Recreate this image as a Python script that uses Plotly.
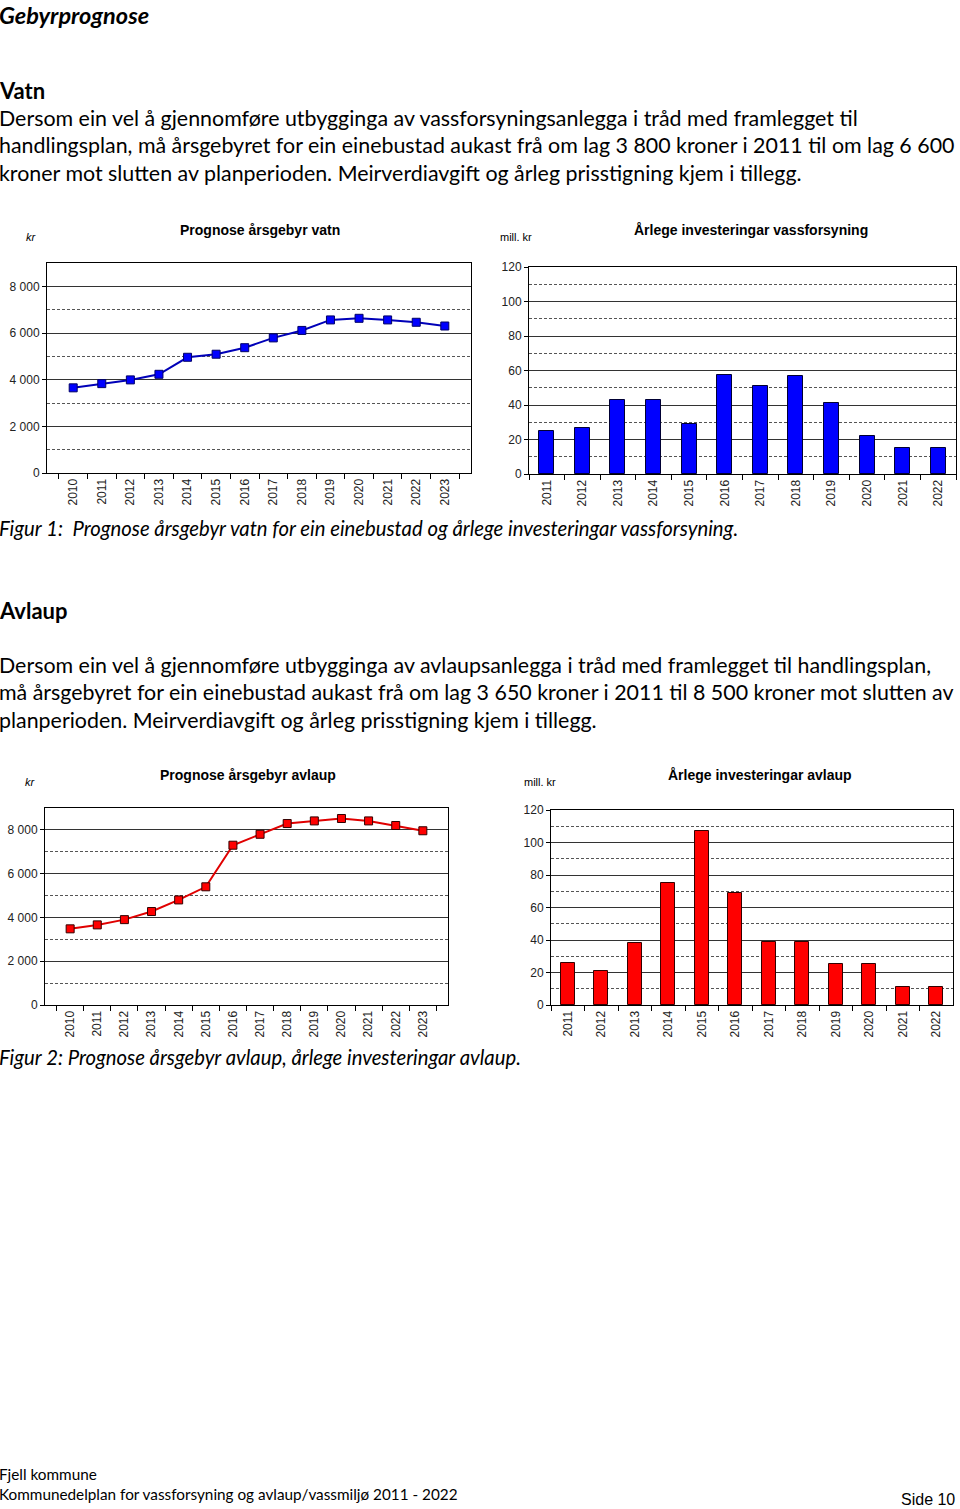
import plotly.graph_objects as go

# data
years_fee = [str(y) for y in range(2010, 2024)]
years_inv = [str(y) for y in range(2011, 2023)]

fee_vatn = [3650, 3830, 3990, 4230, 4960, 5090, 5370, 5790, 6110, 6560, 6630, 6560, 6460, 6300]
inv_vatn = [25, 26.5, 43, 43, 29, 57.5, 51, 57, 41, 22, 15, 15]

fee_avlaup = [3480, 3660, 3900, 4270, 4800, 5400, 7300, 7800, 8290, 8410, 8520, 8410, 8200, 7960]
inv_avlaup = [26, 21, 38, 75, 107, 69, 39, 39, 25, 25, 11, 11]

W, H = 960, 1509
BODY = "Lato, 'Open Sans', sans-serif"
CHART = "'Liberation Sans', Arial, sans-serif"


def px(x):
    return x / W


def py(y):
    return 1 - y / H


fig = go.Figure()

# line charts (årsgebyr)
fig.add_trace(go.Scatter(x=years_fee, y=fee_vatn, mode='lines+markers', xaxis='x', yaxis='y',
                         line=dict(color='#0000b8', width=2),
                         marker=dict(symbol='square', size=8, color='#0000ff', line=dict(color='#000066', width=1))))
fig.add_trace(go.Scatter(x=years_fee, y=fee_avlaup, mode='lines+markers', xaxis='x3', yaxis='y3',
                         line=dict(color='#e00000', width=2),
                         marker=dict(symbol='square', size=8, color='#ff0000', line=dict(color='#330000', width=1))))

# bar charts (investeringar)
fig.add_trace(go.Bar(x=years_inv, y=inv_vatn, xaxis='x2', yaxis='y2', width=0.42,
                     marker=dict(color='#0000ff', line=dict(color='#000033', width=1))))
fig.add_trace(go.Bar(x=years_inv, y=inv_avlaup, xaxis='x4', yaxis='y4', width=0.42,
                     marker=dict(color='#ff0000', line=dict(color='#330000', width=1))))


def xax(x0, x1, anchor):
    return dict(domain=[px(x0), px(x1)], anchor=anchor, type='category', automargin=False,
                showline=True, linecolor='black', linewidth=1, mirror=True,
                ticks='outside', ticklen=5, tickcolor='black', tickson='boundaries',
                tickangle=-90, tickfont=dict(family=CHART, size=12, color='#222'),
                showgrid=False, zeroline=False, fixedrange=True)


def yax(y0, y1, anchor, rng, dtick, minor):
    return dict(domain=[py(y1), py(y0)], anchor=anchor, range=rng, dtick=dtick, automargin=False,
                tickformat=',d', showline=True, linecolor='black', linewidth=1, mirror=True,
                ticks='outside', ticklen=4, tickcolor='black',
                tickfont=dict(family=CHART, size=12, color='#222'),
                showgrid=True, gridcolor='#333', gridwidth=1, zeroline=False,
                minor=dict(dtick=minor, showgrid=True, gridcolor='#555', griddash='3px,2px', gridwidth=1),
                fixedrange=True)


fig.update_layout(
    width=W, height=H, margin=dict(l=0, r=0, t=0, b=0, pad=0), autosize=False,
    paper_bgcolor='white', plot_bgcolor='white', showlegend=False,
    separators=', ', bargap=0,
    xaxis=xax(47, 471, 'y'), yaxis=yax(263, 473, 'x', [0, 9000], 2000, 1000),
    xaxis2=xax(529, 956, 'y2'), yaxis2=yax(267, 474, 'x2', [0, 120], 20, 10),
    xaxis3=xax(45, 448, 'y3'), yaxis3=yax(808, 1005, 'x3', [0, 9000], 2000, 1000),
    xaxis4=xax(551, 953, 'y4'), yaxis4=yax(810, 1005, 'x4', [0, 120], 20, 10),
)


def text(x, y, s, size, family=BODY, bold=False, italic=False, anchor='left', color='black', yanchor='middle'):
    if bold:
        s = '<b>' + s + '</b>'
    if italic:
        s = '<i>' + s + '</i>'
    fig.add_annotation(x=px(x), y=py(y), xref='paper', yref='paper', text=s, showarrow=False,
                       xanchor=anchor, yanchor=yanchor, align=anchor, borderpad=0,
                       font=dict(family=family, size=size, color=color))


text(-2, 0, 'Gebyrprognose', 23.5, bold=True, italic=True, yanchor='top')
text(-2, 91, 'Vatn', 22, bold=True)
vatn_lines = [
    'Dersom ein vel å gjennomføre utbygginga av vassforsyningsanlegga i tråd med framlegget til',
    'handlingsplan, må årsgebyret for ein einebustad aukast frå om lag 3 800 kroner i 2011 til om lag 6 600',
    'kroner mot slutten av planperioden. Meirverdiavgift og årleg prisstigning kjem i tillegg.',
]
for i, s in enumerate(vatn_lines):
    text(-2, 118 + i * 27.5, s, 21.4)

text(260, 230, 'Prognose årsgebyr vatn', 14, family=CHART, bold=True, anchor='center')
text(25, 237, 'kr', 11, family=CHART, italic=True)
text(751, 230, 'Årlege investeringar vassforsyning', 14, family=CHART, bold=True, anchor='center')
text(499, 237, 'mill. kr', 11, family=CHART)
text(-2, 528, 'Figur 1:  Prognose årsgebyr vatn for ein einebustad og årlege investeringar vassforsyning.', 20.3, italic=True)

text(-2, 610, 'Avlaup', 22, bold=True)
avlaup_lines = [
    'Dersom ein vel å gjennomføre utbygginga av avlaupsanlegga i tråd med framlegget til handlingsplan,',
    'må årsgebyret for ein einebustad aukast frå om lag 3 650 kroner i 2011 til 8 500 kroner mot slutten av',
    'planperioden. Meirverdiavgift og årleg prisstigning kjem i tillegg.',
]
for i, s in enumerate(avlaup_lines):
    text(-2, 665 + i * 27.5, s, 21.4)

text(248, 775, 'Prognose årsgebyr avlaup', 14, family=CHART, bold=True, anchor='center')
text(24, 782, 'kr', 11, family=CHART, italic=True)
text(760, 775, 'Årlege investeringar avlaup', 14, family=CHART, bold=True, anchor='center')
text(523, 782, 'mill. kr', 11, family=CHART)
text(-2, 1057, 'Figur 2: Prognose årsgebyr avlaup, årlege investeringar avlaup.', 20.3, italic=True)

text(-2, 1474, 'Fjell kommune', 15.3)
text(-2, 1494, 'Kommunedelplan for vassforsyning og avlaup/vassmiljø 2011 - 2022', 15.3)
text(956, 1499, 'Side 10', 16, family=CHART, anchor='right')

fig.write_html("out.html", config={'displayModeBar': False},
               post_script="document.body.style.margin='0';")
